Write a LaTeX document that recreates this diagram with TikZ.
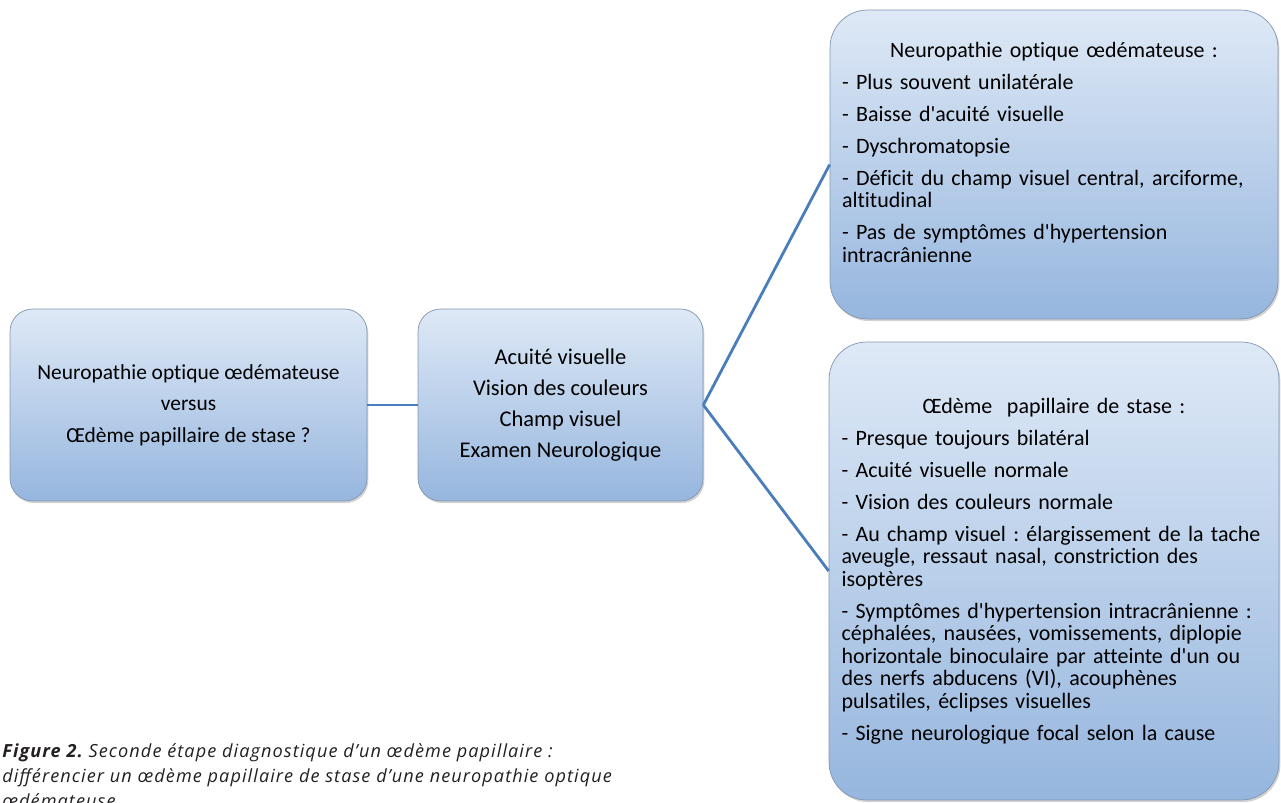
\documentclass[tikz,border=0pt]{standalone}
\usepackage{fontspec}
\setmainfont{Carlito}
\newfontfamily\boxfont{Carlito}[Ligatures=NoCommon]
\newfontfamily\capfont{Open Sans}[LetterSpace=6]
\usetikzlibrary{shadows}
\definecolor{boxtop}{RGB}{222,233,246}
\definecolor{boxbot}{RGB}{150,182,222}
\definecolor{boxline}{RGB}{130,150,176}
\definecolor{linkblue}{RGB}{74,126,187}
\definecolor{captext}{RGB}{35,31,32}
\frenchspacing
\begin{document}
\begin{tikzpicture}[x=0.02cm, y=-0.02cm,
        card/.style={draw=boxline, thin, rounded corners=0.45cm, top color=boxtop, bottom color=boxbot,
            drop shadow={opacity=0.35, shadow xshift=0.8pt, shadow yshift=-1.2pt}, inner sep=0pt, text=black},
        listfont/.style={font=\boxfont\fontsize{12.5}{12.8}\selectfont},
        link/.style={draw=linkblue, line width=1.6pt}]
    \useasboundingbox (0,0) rectangle (1281,802);
    % Question and exams
    \node[card, minimum width=7.14cm, minimum height=3.84cm, align=center, font=\boxfont\fontsize{12.2}{18}\selectfont] (question) at (188.5,405) {Neuropathie optique œdémateuse\\versus\\Œdème papillaire de stase ?};
    \node[card, minimum width=5.7cm, minimum height=3.84cm, align=center, font=\boxfont\fontsize{12.8}{17.6}\selectfont] (exams) at (560.5,405) {Acuité visuelle\\Vision des couleurs\\Champ visuel\\Examen Neurologique};
    % Right column
    \node[card, listfont, rounded corners=0.75cm, minimum width=8.96cm, minimum height=6.18cm, text width=8.48cm, align=left] (optic) at (1054,164.5) {\makebox[\linewidth][c]{Neuropathie optique œdémateuse :}\\[5.4pt]
        - Plus souvent unilatérale\\[5.4pt]
        - Baisse d'acuité visuelle\\[5.4pt]
        - Dyschromatopsie\\[5.4pt]
        - Déficit du champ visuel central, arciforme,\\
        altitudinal\\[5.4pt]
        - Pas de symptômes d'hypertension\\
        intracrânienne\\[1pt]\null};
    \node[card, listfont, rounded corners=0.75cm, minimum width=9.0cm, minimum height=9.16cm, text width=8.5cm, align=left] (stasis) at (1054,571) {\makebox[\linewidth][c]{Œdème~ papillaire de stase :}\\[5.4pt]
        - Presque toujours bilatéral\\[5.4pt]
        - Acuité visuelle normale\\[5.4pt]
        - Vision des couleurs normale\\[5.4pt]
        - Au champ visuel : élargissement de la tache\\
        aveugle, ressaut nasal, constriction des\\
        isoptères\\[5.4pt]
        - Symptômes d'hypertension intracrânienne :\\
        céphalées, nausées, vomissements, diplopie\\
        horizontale binoculaire par atteinte d'un ou\\
        des nerfs abducens (VI), acouphènes\\
        pulsatiles, éclipses visuelles\\[5.4pt]
        - Signe neurologique focal selon la cause};
    % Connectors
    \draw[link] (question.east) -- (exams.west);
    \draw[link] (exams.east) -- (optic.west);
    \draw[link] (exams.east) -- (stasis.west);
    % Caption
    \node[anchor=base west, align=left, inner sep=0pt, text=captext, font=\capfont\itshape\fontsize{10.3}{14.2}\selectfont] (caption) at (2,807) {\textbf{Figure 2.} Seconde étape diagnostique d’un œdème papillaire :\\
        différencier un œdème papillaire de stase d’une neuropathie optique\\
        œdémateuse};
\end{tikzpicture}
\end{document}
